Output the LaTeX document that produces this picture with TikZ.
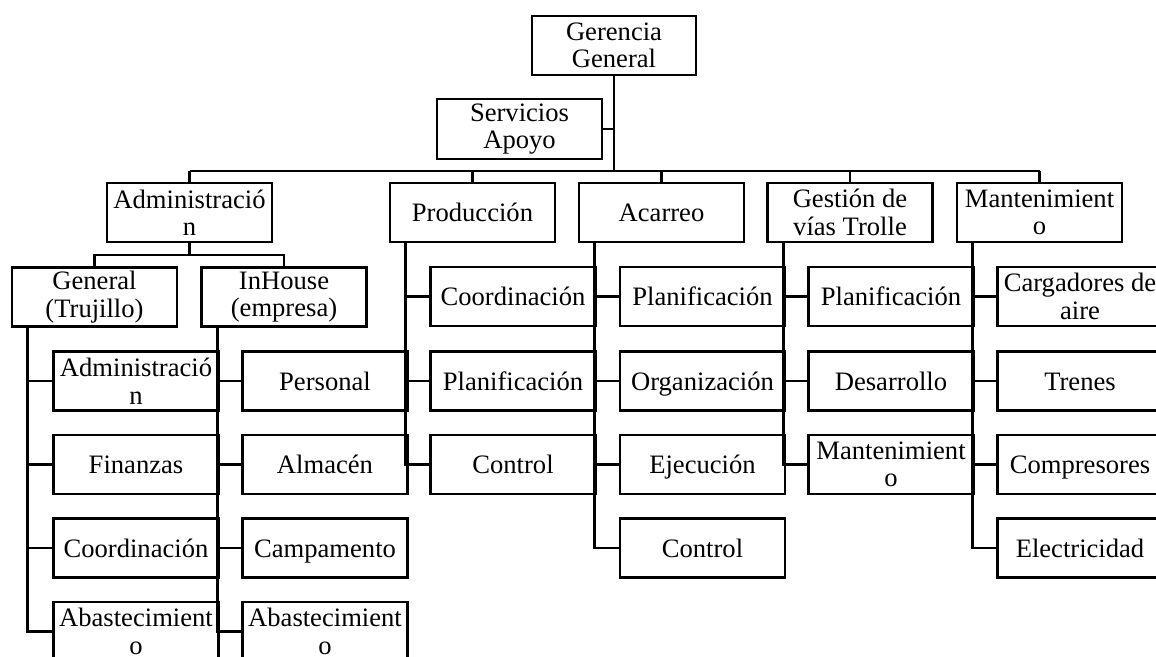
\documentclass[tikz,border=0pt]{standalone}
\usepackage{fontspec}
\setmainfont{Liberation Serif}
\begin{document}
\begin{tikzpicture}[x=1pt,y=-1pt,
  box/.style={draw, line width=2.7pt, minimum width=165pt, minimum height=59pt, inner sep=0pt, align=center, font=\fontsize{26.6}{27.5}\selectfont},
  one/.style={box, text height=22pt, text depth=3.6pt},
  conn/.style={line width=2.7pt}]
\useasboundingbox (0,0) rectangle (1156,656);
\clip (0,0) rectangle (1156,656);
% top
\node[box, minimum width=164pt] (gg) at (614,45.5) {Gerencia\\General};
\node[box, minimum height=60pt] (sa) at (519.5,129) {Servicios\\Apoyo};
% level 2
\node[box] (adm) at (189.5,212.5) {Administració\\n};
\node[one] (prod) at (472.5,212.5) {Producción};
\node[one] (aca) at (661.5,212.5) {Acarreo};
\node[box] (ges) at (850,212.5) {Gestión de\\vías Trolle};
\node[box] (man) at (1039.5,212.5) {Mantenimient\\o};
\coordinate (bus) at (0,171);
\draw[conn] (gg.south) -- (gg.south |- bus);
\draw[conn] (sa.east) -- (sa.east -| gg.south);
\draw[conn] (adm.north |- bus) -- (man.north |- bus);
\foreach \n in {adm,prod,aca,ges,man} \draw[conn] (\n.north) -- (\n.north |- bus);
% level 3 under Administracion
\node[box] (gen) at (94.5,297) {General\\(Trujillo)};
\node[box] (inh) at (284,297) {InHouse\\(empresa)};
\coordinate (bus2) at (0,255);
\draw[conn] (adm.south) -- (adm.south |- bus2);
\draw[conn] (gen.north) -- (gen.north |- bus2) -- (inh.north |- bus2) -- (inh.north);
% children General
\node[box] (g1) at (136,381) {Administració\\n};
\node[one] (g2) at (136,464.5) {Finanzas};
\node[one] (g3) at (136,548) {Coordinación};
\node[box] (g4) at (136,631.5) {Abastecimient\\o};
% children InHouse
\node[one] (h1) at (325,381) {Personal};
\node[one] (h2) at (325,464.5) {Almacén};
\node[one] (h3) at (325,548) {Campamento};
\node[box] (h4) at (325,631.5) {Abastecimient\\o};
% children Produccion
\node[one] (p0) at (513,296.5) {Coordinación};
\node[one] (p1) at (513,381) {Planificación};
\node[one] (p2) at (513,464.5) {Control};
% children Acarreo
\node[one] (a0) at (702.5,296.5) {Planificación};
\node[one] (a1) at (702.5,381) {Organización};
\node[one] (a2) at (702.5,464.5) {Ejecución};
\node[one] (a3) at (702.5,548) {Control};
% children Gestion
\node[one] (e0) at (891,296.5) {Planificación};
\node[one] (e1) at (891,381) {Desarrollo};
\node[box] (e2) at (891,464.5) {Mantenimient\\o};
% children Mantenimiento
\node[box] (m0) at (1080,296.5) {Cargadores de\\aire};
\node[one] (m1) at (1080,381) {Trenes};
\node[one] (m2) at (1080,464.5) {Compresores};
\node[one] (m3) at (1080,548) {Electricidad};
% connectors to children
\foreach \c in {g1,g2,g3,g4} \draw[conn] (\c.west) -| ([xshift=17pt]gen.south west);
\foreach \c in {h1,h2,h3,h4} \draw[conn] (\c.west) -| ([xshift=17pt]inh.south west);
\foreach \c in {p0,p1,p2} \draw[conn] (\c.west) -| ([xshift=17pt]prod.south west);
\foreach \c in {a0,a1,a2,a3} \draw[conn] (\c.west) -| ([xshift=17pt]aca.south west);
\foreach \c in {e0,e1,e2} \draw[conn] (\c.west) -| ([xshift=17pt]ges.south west);
\foreach \c in {m0,m1,m2,m3} \draw[conn] (\c.west) -| ([xshift=17pt]man.south west);
\end{tikzpicture}
\end{document}
